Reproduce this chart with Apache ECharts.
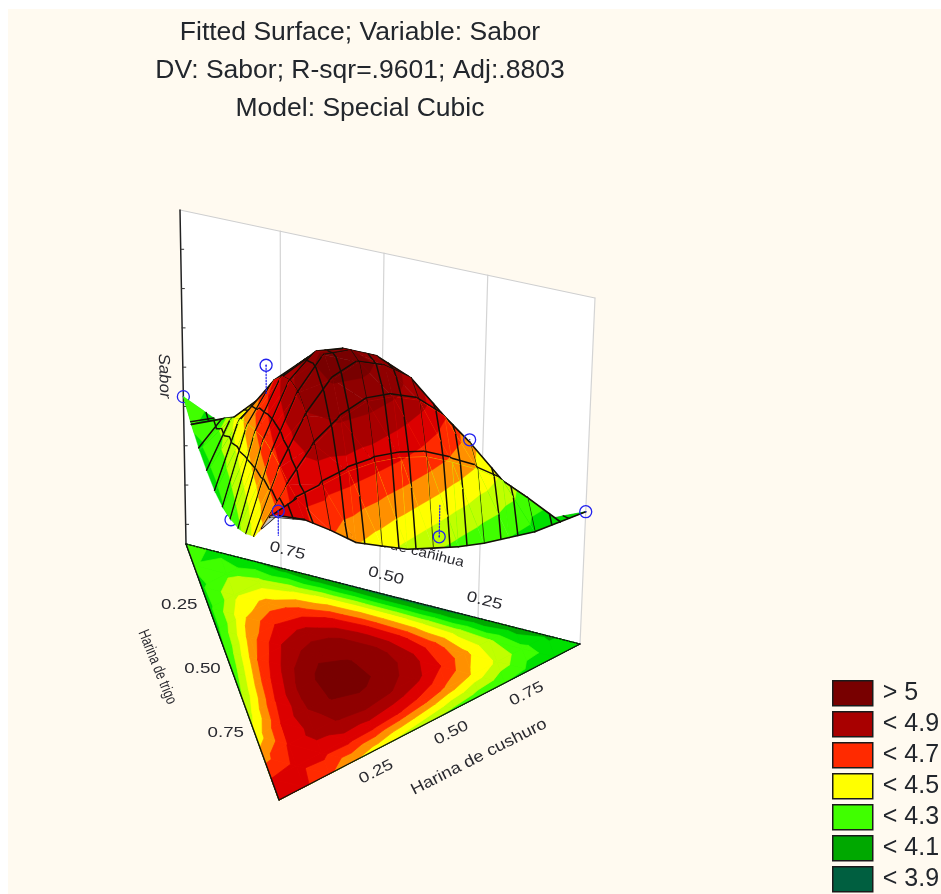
<!DOCTYPE html>
<html>
<head>
<meta charset="utf-8">
<style>html,body{margin:0;padding:0;background:#fff}#c{width:941px;height:894px}</style>
<script src="https://cdn.jsdelivr.net/npm/echarts@6/dist/echarts.min.js"></script>
</head>
<body>
<div id="c"></div>
<script>
(function(){
// Sabor read from the contour bands: one row per Harina de trigo step (c = row/12),
// one entry per Harina de cushuro step (b = col/12); Harina de cañihua is the remainder.
const saborRows = [
  [4.25,4.17,4.10,4.04,3.99,3.97,3.95,3.95,3.96,3.99,4.03,4.08,4.15],
  [4.21,4.28,4.34,4.38,4.41,4.42,4.41,4.39,4.36,4.31,4.24,4.16],
  [4.18,4.38,4.54,4.65,4.72,4.74,4.72,4.65,4.53,4.38,4.17],
  [4.17,4.47,4.70,4.85,4.93,4.93,4.86,4.71,4.49,4.20],
  [4.17,4.54,4.81,4.97,5.01,4.97,4.84,4.58,4.23],
  [4.19,4.60,4.88,5.04,5.04,4.91,4.66,4.27],
  [4.23,4.65,4.91,5.01,4.94,4.71,4.32],
  [4.28,4.68,4.89,4.91,4.74,4.37],
  [4.35,4.70,4.84,4.75,4.44],
  [4.43,4.71,4.74,4.51],
  [4.56,4.73,4.62],
  [4.70,4.72],
  [4.79]
];
const bandLimits = [-9,3.9,4.0,4.1,4.2,4.3,4.4,4.5,4.6,4.7,4.8,4.9,5.0,9];
const bandColors = ['#005f40','#008030','#00a800','#00e000','#40ff00','#c0ff00','#ffff00','#ff9000','#ff2a00','#dc0000','#a80000','#8f0000','#780000'];
const legendNames = ['> 5','< 4.9','< 4.7','< 4.5','< 4.3','< 4.1','< 3.9'];
const legendColors = ['#780000','#a80000','#ff2a00','#ffff00','#40ff00','#00a800','#005f40'];
const titleLines = ['Fitted Surface; Variable: Sabor','DV: Sabor; R-sqr=.9601; Adj:.8803','Model: Special Cubic'];
const ternaryTicks = [0.25,0.5,0.75];
const saborTicks = [3.6,3.8,4.0,4.2,4.4,4.6,4.8,5.0];
// measured design points: [cañihua, cushuro, trigo, observed, fitted end of the drop line]
const pointsBehind = [[1,0,0,4.25,4.25],[0.5,0,0.5,4.23,4.31]];
const pointsFront = [[0.667,0.167,0.166,4.68,4.54],[0.167,0.667,0.166,4.54,4.54],[0,1,0,4.15,4.15],[0,0,1,4.81,4.70],[0,0.52,0.48,4.36,4.51]];
const zMin = 3.5, zMax = 5.2;

// view of the simplex
const floorA=[186,544], floorB=[580,644], floorC=[279,800];
const upA=[-6,-334], upB=[15,-346], upC=[-1,-375];
const N = saborRows.length-1;
function floorPt(p){return [p.a*floorA[0]+p.b*floorB[0]+p.c*floorC[0], p.a*floorA[1]+p.b*floorB[1]+p.c*floorC[1]];}
function proj3(p){
  const f=floorPt(p), h=(p.v-zMin)/(zMax-zMin);
  return [f[0]+h*(p.a*upA[0]+p.b*upB[0]+p.c*upC[0]), f[1]+h*(p.a*upA[1]+p.b*upB[1]+p.c*upC[1])];
}
function node(i,j){return {a:(N-i-j)/N,b:j/N,c:i/N,v:saborRows[i][j],key:i+'_'+j};}
const facets=[];
for(let i=0;i<N;i++){for(let j=0;j<N-i;j++){
  facets.push([node(i,j),node(i,j+1),node(i+1,j)]);
  if(j<N-i-1) facets.push([node(i,j+1),node(i+1,j+1),node(i+1,j)]);
}}
function mix(p,q,t){return {a:p.a+(q.a-p.a)*t,b:p.b+(q.b-p.b)*t,c:p.c+(q.c-p.c)*t,v:p.v+(q.v-p.v)*t};}
function clipAbove(poly,level){
  const out=[];
  for(let i=0;i<poly.length;i++){
    const p=poly[i],q=poly[(i+1)%poly.length];
    const pi=p.v>=level, qi=q.v>=level;
    if(pi) out.push(p);
    if(pi!==qi) out.push(mix(p,q,(level-p.v)/(q.v-p.v)));
  }
  return out;
}
function isoSeg(tri,key,level){
  const pts=[];
  for(let i=0;i<3;i++){
    const p=tri[i],q=tri[(i+1)%3];
    if((p[key]-level)*(q[key]-level)<0) pts.push(mix(p,q,(level-p[key])/(q[key]-p[key])));
  }
  return pts.length===2?pts:null;
}
function area(a,b,c){return (b[0]-a[0])*(c[1]-a[1])-(b[1]-a[1])*(c[0]-a[0]);}
const floorSign=Math.sign(area(floorA,floorB,floorC));
function facesUp(tri){return Math.sign(area(proj3(tri[0]),proj3(tri[1]),proj3(tri[2])))===floorSign;}
function edgeKey(p,q){return p.key<q.key?p.key+'|'+q.key:q.key+'|'+p.key;}
const edgeFacets={};
facets.forEach(t=>{for(let i=0;i<3;i++){const k=edgeKey(t[i],t[(i+1)%3]);(edgeFacets[k]=edgeFacets[k]||[]).push(t);}});
const sorted=facets.slice().sort((s,t)=>{
  const d=f=>f.reduce((m,p)=>m+floorPt(p)[1],0);
  return d(s)-d(t);
});
const bLevels=[],aLevels=[];
for(let k=1;k<18;k++) bLevels.push(k/18+0.0005);
for(let k=1;k<12;k++) aLevels.push(k/12+0.008);
const LINE='#141008', MESH_W=1.5;

function polyEl(api,pts,fill,w){
  return {type:'polygon',shape:{points:pts.map(q=>api.coord(q))},style:{fill:fill,stroke:fill,lineWidth:w},silent:true};
}
function lineEl(api,p,q,color,w,dash){
  const s=api.coord(p),e=api.coord(q);
  return {type:'line',shape:{x1:s[0],y1:s[1],x2:e[0],y2:e[1]},style:{stroke:color,lineWidth:w,lineDash:dash||null,lineCap:'round'},silent:true};
}
function textEl(api,pos,str,font,rotDeg,sx,color){
  const s=api.coord(pos);
  return {type:'text',x:s[0],y:s[1],rotation:rotDeg*Math.PI/180,scaleX:sx,silent:true,
    style:{text:str,x:0,y:0,align:'center',verticalAlign:'middle',font:font,fill:color||'#2a2a30'}};
}
function atTop(b){return {a:b[0],b:b[1],c:b[2],v:zMax};}
function wallRender(params,api){
  const tl=proj3(atTop([1,0,0])),tr=proj3(atTop([0,1,0]));
  const ch=[];
  ch.push(polyEl(api,[floorA,tl,tr,floorB],'#ffffff',0.5));
  ternaryTicks.forEach(t=>{
    const fl=floorPt({a:t,b:1-t,c:0}),tp=proj3(atTop([t,1-t,0]));
    ch.push(lineEl(api,[fl[0]-3.5,fl[1]-1],[tp[0]-3.5,tp[1]-1],'#d4d4d4',1.2));
  });
  ch.push(lineEl(api,tl,tr,'#cfcfcf',1.2));
  ch.push(lineEl(api,tr,floorB,'#d4d4d4',1.2));
  ch.push(lineEl(api,tl,floorA,'#222',1.5));
  saborTicks.forEach(v=>{
    const q=proj3({a:1,b:0,c:0,v:v});
    ch.push(lineEl(api,q,[q[0]+3,q[1]],'#333',1));
  });
  return {type:'group',children:ch};
}
function labelRender(params,api){
  const ch=[];
  const f='15px "Liberation Sans"';
  ternaryTicks.forEach(t=>{
    const lbl=t.toFixed(2);
    let p=floorPt({a:1-t,b:0,c:t});
    ch.push(textEl(api,[p[0]-30,p[1]-3],lbl,f,0,1.25));
    p=floorPt({a:0,b:t,c:1-t});
    ch.push(textEl(api,[p[0]+22,p[1]+11],lbl,f,27,1.25));
    p=floorPt({a:t,b:1-t,c:0});
    ch.push(textEl(api,[p[0]+3,p[1]-18],lbl,f,-14,1.25));
  });
  ch.push(textEl(api,[157,667],'Harina de trigo','16px "Liberation Sans"',-68,0.75));
  ch.push(textEl(api,[479,757],'Harina de cushuro','16px "Liberation Sans"',27,1.15));
  ch.push(textEl(api,[403,548],'Harina de cañihua','14px "Liberation Sans"',-14,1.1));
  ch.push(textEl(api,[164,376],'Sabor','italic 16px "Liberation Sans"',-88,1.05));
  return {type:'group',children:ch};
}
function floorRender(params,api){
  const k=params.dataIndex,ch=[];
  facets.forEach(tri=>{
    const poly=clipAbove(tri,bandLimits[k]);
    if(poly.length>2) ch.push(polyEl(api,poly.map(floorPt),bandColors[k],0.7));
  });
  return {type:'group',children:ch};
}
function floorEdgeRender(params,api){
  return {type:'group',children:[
    lineEl(api,floorA,floorC,'#111',1.4),
    lineEl(api,floorC,floorB,'#111',1.4),
    lineEl(api,floorA,floorB,'#111',1.3,[2,1.5])
  ]};
}
function surfaceRender(params,api){
  const tri=sorted[params.dataIndex],ch=[];
  const up=facesUp(tri);
  if(!up){
    ch.push(polyEl(api,tri.map(proj3),'#c8c8c8',0.4));
  }else{
    const low=Math.min(tri[0].v,tri[1].v,tri[2].v);
    bandColors.forEach((col,k)=>{
      if(low>=bandLimits[k+1]) return;
      const poly=clipAbove(tri,bandLimits[k]);
      if(poly.length>2) ch.push(polyEl(api,poly.map(proj3),col,0.4));
    });
  }
  bLevels.forEach(L=>{const g=isoSeg(tri,'b',L);if(g)ch.push(lineEl(api,proj3(g[0]),proj3(g[1]),LINE,MESH_W));});
  aLevels.forEach(L=>{const g=isoSeg(tri,'a',L);if(g)ch.push(lineEl(api,proj3(g[0]),proj3(g[1]),LINE,MESH_W));});
  for(let i=0;i<3;i++){
    const p=tri[i],q=tri[(i+1)%3];
    if(p.a===0&&q.a===0) ch.push(lineEl(api,proj3(p),proj3(q),LINE,1.6));
    if(up){
      const pair=edgeFacets[edgeKey(p,q)];
      if(pair.length===2){
        const other=pair[0]===tri?pair[1]:pair[0];
        if(!facesUp(other)) ch.push(lineEl(api,proj3(p),proj3(q),LINE,1.6));
      }
    }
  }
  return {type:'group',children:ch};
}
function pointRender(list){
  return function(params,api){
    const d=list[params.dataIndex];
    const o=proj3({a:d[0],b:d[1],c:d[2],v:d[3]}),e=proj3({a:d[0],b:d[1],c:d[2],v:d[4]});
    const s=api.coord(o);
    return {type:'group',children:[
      lineEl(api,o,e,'#2222ee',1.2,[1.5,1.5]),
      {type:'circle',shape:{cx:s[0],cy:s[1],r:6},style:{fill:'none',stroke:'#2222ee',lineWidth:1.3},silent:true},
      {type:'circle',shape:{cx:s[0],cy:s[1],r:0.8},style:{fill:'#2222ee'},silent:true}
    ]};
  };
}
function custom(render,count,z){
  return {type:'custom',renderItem:render,data:Array.from({length:count},(_,i)=>[i]),z:z,clip:false,silent:true,animation:false,coordinateSystem:'cartesian2d',encode:{x:0}};
}
const chart=echarts.init(document.getElementById('c'),null,{renderer:'canvas'});
chart.setOption({
  animation:false,
  backgroundColor:'#ffffff',
  title:{text:titleLines.join('\n'),left:355,top:9,textAlign:'center',
    textStyle:{fontFamily:'Liberation Sans',fontSize:26.5,fontWeight:'normal',color:'#22262c',lineHeight:38}},
  graphic:[{type:'rect',left:8,top:9,z:-10,silent:true,shape:{width:933,height:885},style:{fill:'#fffaf0'}}],
  grid:{left:0,right:0,top:0,bottom:0},
  xAxis:{type:'value',min:0,max:941,show:false},
  yAxis:{type:'value',min:0,max:894,inverse:true,show:false},
  legend:{orient:'vertical',left:832,top:680,height:214,padding:0,itemWidth:40,itemHeight:25,itemGap:4.5,selectedMode:false,
    data:legendNames.map(n=>({name:n,icon:'rect'})),
    itemStyle:{borderColor:'#1a1a1a',borderWidth:1.5,opacity:1},
    textStyle:{fontFamily:'Liberation Sans',fontSize:25,lineHeight:25,color:'#22262c',padding:[0,0,0,5]}},
  series:[
    custom(wallRender,1,3),
    custom(labelRender,1,4),
    custom(floorRender,bandColors.length,5),
    custom(floorEdgeRender,1,6),
    custom(pointRender(pointsBehind),pointsBehind.length,7),
    custom(surfaceRender,sorted.length,8),
    custom(pointRender(pointsFront),pointsFront.length,9)
  ].concat(legendNames.map((n,i)=>({type:'scatter',name:n,data:[],itemStyle:{color:legendColors[i],opacity:1}})))
});
})();
</script>
</body>
</html>
